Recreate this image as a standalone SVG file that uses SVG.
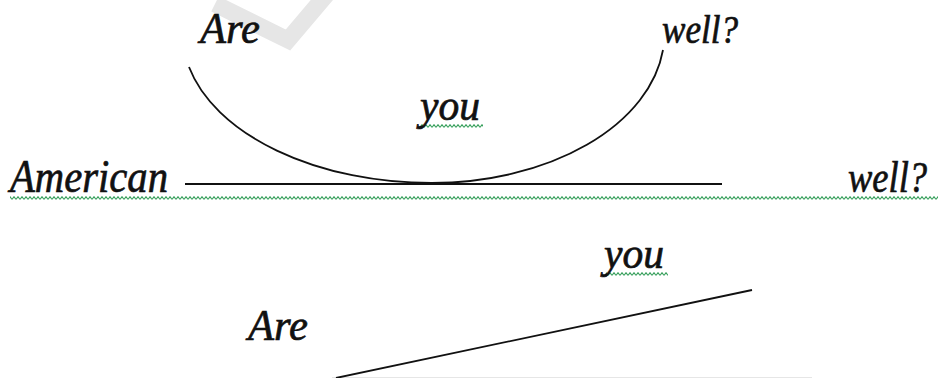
<svg xmlns="http://www.w3.org/2000/svg" width="938" height="378" viewBox="0 0 938 378">
<style>
.t{font-family:"Liberation Serif","Times New Roman",serif;font-style:italic;fill:#111;stroke:#111;stroke-width:0.7}
.ln{fill:none;stroke:#111;stroke-width:1.8}
</style>
<defs>
<pattern id="wave" width="4" height="4" patternUnits="userSpaceOnUse">
<path d="M0,3.3 L2,0.7 L4,3.3" fill="none" stroke="#38a05c" stroke-width="1.1"/>
</pattern>
</defs>
<rect width="938" height="378" fill="#fff"/>
<polyline points="215,4 288,40 332,-12" fill="none" stroke="#e6e6e6" stroke-width="17"/>
<line x1="332" y1="377.5" x2="812" y2="377.5" stroke="#e6e6e6" stroke-width="1"/>
<g id="connectors">
<path class="ln" d="M189,67 A249,150 0 0 0 432,183 A233,150 0 0 0 663,50"/>
<line class="ln" x1="185" y1="184" x2="722" y2="184"/>
<line class="ln" x1="336" y1="378" x2="752" y2="290"/>
</g>
<g id="underlines">
<rect x="10" y="196" width="928" height="4" fill="url(#wave)"/>
<rect x="421" y="124" width="62" height="4" fill="url(#wave)"/>
<rect x="606" y="272" width="62" height="4" fill="url(#wave)"/>
<circle cx="421" cy="127" r="1.6" fill="#111"/>
<circle cx="606" cy="275" r="1.6" fill="#111"/>
</g>
<g id="n-are-top"><text class="t" x="200" y="43" font-size="45" textLength="60" lengthAdjust="spacingAndGlyphs">Are</text></g>
<g id="n-well-top"><text class="t" x="662" y="43" font-size="40" textLength="76" lengthAdjust="spacingAndGlyphs">well?</text></g>
<g id="n-you-top"><text class="t" x="420" y="120" font-size="44" textLength="60" lengthAdjust="spacingAndGlyphs">you</text></g>
<g id="n-american"><text class="t" x="10" y="192" font-size="46" textLength="158" lengthAdjust="spacingAndGlyphs">American</text></g>
<g id="n-well-right" transform="translate(848,192) scale(0.83,1)"><text class="t" x="0" y="0" font-size="44">well?</text></g>
<g id="n-you-bottom"><text class="t" x="604" y="268" font-size="44" textLength="60" lengthAdjust="spacingAndGlyphs">you</text></g>
<g id="n-are-bottom"><text class="t" x="248" y="340" font-size="45" textLength="60" lengthAdjust="spacingAndGlyphs">Are</text></g>
</svg>
